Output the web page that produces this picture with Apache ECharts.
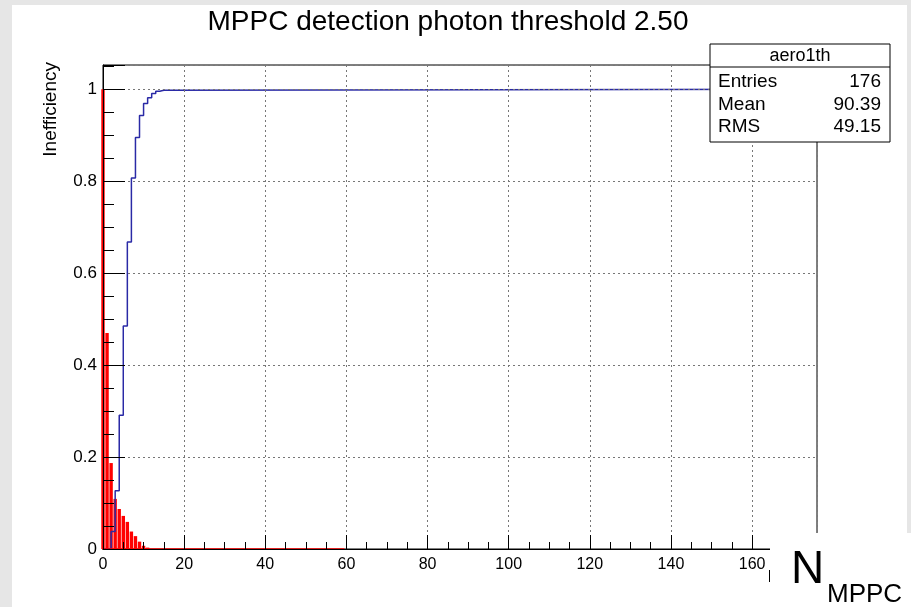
<!DOCTYPE html>
<html>
<head>
<meta charset="utf-8">
<script src="https://cdn.jsdelivr.net/npm/echarts@6/dist/echarts.min.js"></script>
<style>
  html, body { margin: 0; padding: 0; background: #fff; }
  #chart { width: 911px; height: 607px; }
</style>
</head>
<body>
<div id="chart"></div>
<script>
// red histogram: bins centred on integers, width 1 (range -0.5 .. 59.5)
const redBins = [0, 1, 2, 3, 4, 5, 6, 7, 8, 9, 10, 11];
const redValues = [1.0, 0.47, 0.187, 0.109, 0.087, 0.072, 0.059, 0.038, 0.028, 0.016, 0.007, 0.003];
const redRange = [-0.5, 59.5];

// blue histogram: lower bin edges, last bin runs to the axis end
const blueEdges = [0, 1, 2, 3, 4, 5, 6, 7, 8, 9, 10, 11, 12, 13, 14, 15, 176];
const blueValues = [0, 0, 0.038, 0.127, 0.291, 0.485, 0.668, 0.807, 0.895, 0.943, 0.969, 0.982, 0.991, 0.996, 0.998, 1.0];

const statsLabels = ['Entries', 'Mean', 'RMS'];
const statsValues = ['176', '90.39', '49.15'];

const font = 'Liberation Sans, Arial, Helvetica, sans-serif';

const blueData = blueValues.map((v, i) => [blueEdges[i], v]);
blueData.push([blueEdges[blueEdges.length - 1], blueValues[blueValues.length - 1]]);

const myChart = echarts.init(document.getElementById('chart'));

const statsGraphics = [
  { type: 'rect', shape: { x: 710, y: 44, width: 180, height: 98 },
    style: { fill: '#fff', stroke: '#000', lineWidth: 1 }, z: 120 },
  { type: 'line', shape: { x1: 710, y1: 67, x2: 890, y2: 67 },
    style: { stroke: '#000', lineWidth: 1 }, z: 121 },
  { type: 'text', x: 800, y: 56, z: 121,
    style: { text: 'aero1th', font: '18px ' + font, fill: '#000', textAlign: 'center', textVerticalAlign: 'middle' } }
];
statsLabels.forEach((lab, i) => {
  const y = 82 + i * 22.5;
  statsGraphics.push({ type: 'text', x: 718, y: y, z: 121,
    style: { text: lab, font: '19px ' + font, fill: '#000', textAlign: 'left', textVerticalAlign: 'middle' } });
  statsGraphics.push({ type: 'text', x: 881, y: y, z: 121,
    style: { text: statsValues[i], font: '19px ' + font, fill: '#000', textAlign: 'right', textVerticalAlign: 'middle' } });
});

const option = {
  backgroundColor: '#fff',
  animation: false,
  grid: {
    left: 103, top: 65, width: 714, height: 484,
    show: true, borderColor: '#000', borderWidth: 1, backgroundColor: 'transparent'
  },
  xAxis: {
    type: 'value', min: 0, max: 176, interval: 20, z: 3,
    axisLine: { show: true, onZero: false, lineStyle: { color: '#000', width: 1 } },
    axisTick: { show: true, inside: true, length: 14, lineStyle: { color: '#000' } },
    minorTick: { show: true, splitNumber: 4, length: 7, lineStyle: { color: '#000' } },
    axisLabel: { color: '#000', fontFamily: font, fontSize: 16, margin: 8, showMaxLabel: false },
    splitLine: { show: true, lineStyle: { color: '#777', type: [2, 3], width: 1 } }
  },
  yAxis: {
    type: 'value', min: 0, max: 1.053, interval: 0.2, z: 3,
    axisLine: { show: true, lineStyle: { color: '#000', width: 1 } },
    axisTick: { show: true, inside: true, length: 22, lineStyle: { color: '#000' } },
    minorTick: { show: true, splitNumber: 4, length: 11, lineStyle: { color: '#000' } },
    axisLabel: { color: '#000', fontFamily: font, fontSize: 17, margin: 6, showMaxLabel: false },
    splitLine: { show: true, lineStyle: { color: '#777', type: [2, 3], width: 1 } }
  },
  series: [
    {
      name: 'blue',
      type: 'line',
      step: 'end',
      symbol: 'none',
      data: blueData,
      lineStyle: { color: '#2a2aa6', width: 1.5 },
      z: 2
    },
    {
      name: 'red',
      type: 'bar',
      barWidth: 3.4,
      data: redValues.map((v, i) => [redBins[i], v]),
      itemStyle: { color: '#ff0000' },
      z: 2
    },
    {
      name: 'redBase',
      type: 'line',
      symbol: 'none',
      data: [[redRange[0], 0], [redRange[1], 0]],
      lineStyle: { color: '#ff0000', width: 1.5 },
      z: 2
    }
  ],
  graphic: [
    // grey canvas border
    { type: 'rect', shape: { x: 0, y: 0, width: 12, height: 607 }, style: { fill: '#e6e6e6' }, z: 90 },
    { type: 'rect', shape: { x: 0, y: 0, width: 911, height: 5 }, style: { fill: '#e6e6e6' }, z: 90 },
    { type: 'rect', shape: { x: 907, y: 0, width: 4, height: 533 }, style: { fill: '#e6e6e6' }, z: 90 },
    // title
    { type: 'text', x: 448, y: 22, z: 101,
      style: { text: 'MPPC detection photon threshold 2.50', font: '28px ' + font, fill: '#000', textAlign: 'center', textVerticalAlign: 'middle' } },
    // white box of the axis title
    { type: 'rect', shape: { x: 770, y: 533, width: 141, height: 74 }, style: { fill: '#fff' }, z: 100 },
    { type: 'line', shape: { x1: 769.5, y1: 570, x2: 769.5, y2: 582 }, style: { stroke: '#000', lineWidth: 1 }, z: 101 },
    { type: 'text', x: 791, y: 570, z: 101,
      style: { text: 'N', font: '46px ' + font, fill: '#000', textAlign: 'left', textVerticalAlign: 'middle' } },
    { type: 'text', x: 827, y: 595, z: 101,
      style: { text: 'MPPC', font: '26px ' + font, fill: '#000', textAlign: 'left', textVerticalAlign: 'middle' } },
    { type: 'text', x: 51, y: 62, rotation: Math.PI / 2, z: 101,
      style: { text: 'Inefficiency', font: '19px ' + font, fill: '#000', textAlign: 'right', textVerticalAlign: 'middle' } }
  ].concat(statsGraphics)
};

myChart.setOption(option);
</script>
</body>
</html>
